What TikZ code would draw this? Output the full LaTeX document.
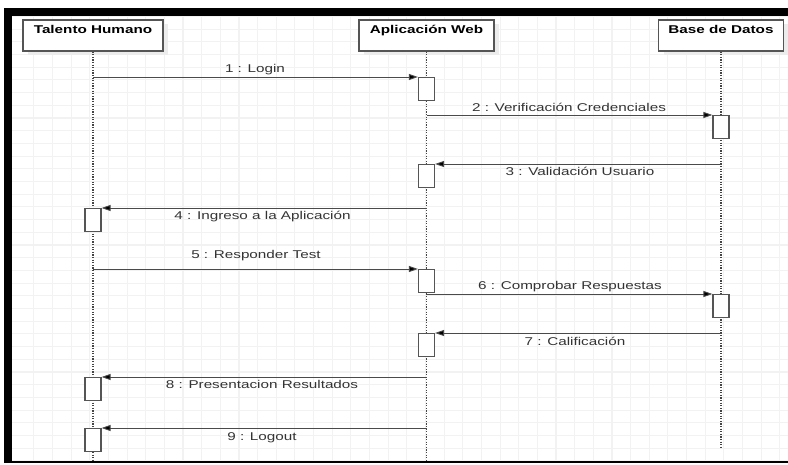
\documentclass[tikz,border=0pt]{standalone}
\usepackage{fontspec}
\newfontfamily\lab[FakeStretch=1.35]{Liberation Sans}
\usetikzlibrary{arrows.meta,shadows}
\definecolor{gridc}{HTML}{F2F2F2}
\definecolor{linec}{HTML}{4A4A4A}
\definecolor{boxc}{HTML}{555555}
\definecolor{lifec}{HTML}{444444}
\definecolor{txtc}{HTML}{333333}
\begin{document}
\begin{tikzpicture}[x=1pt,y=-1pt,
  header/.style={draw=boxc, line width=1.2pt, fill=white, minimum height=31pt, inner sep=0pt,
    drop shadow={shadow xshift=5pt, shadow yshift=-4pt, fill=gray!15, opacity=1}},
  htext/.style={font={\lab\bfseries\fontsize{11.3pt}{13pt}\selectfont}, text=black, inner sep=0pt, anchor=base},
  life/.style={draw=lifec, line width=1.6pt, dash pattern=on 1.3pt off 1.3pt},
  actbox/.style={draw=boxc, line width=1.2pt, fill=white, minimum width=16pt, minimum height=23pt, inner sep=0pt, anchor=north},
  msg/.style={draw=linec, line width=0.9pt, -{Triangle[length=9pt,width=6pt,fill=black]}},
  lbl/.style={font={\lab\fontsize{11.3pt}{13pt}\selectfont}, text=txtc, inner sep=0pt, anchor=base}]
\useasboundingbox (0,0) rectangle (788,465);
\fill[white] (0,0) rectangle (788,465);
% grid
\begin{scope}
\clip (12,16) rectangle (788,461);
\foreach \i in {0,...,41} { \draw[gridc, line width=1.1pt] ({33.8+18.65*\i},16) -- ({33.8+18.65*\i},461); }
\foreach \j in {1,...,36} { \draw[gridc, line width=1.1pt] (12,{3.7+12.7*\j}) -- (788,{3.7+12.7*\j}); }
\end{scope}
% frame
\fill[black] (4,8) rectangle (788,16);
\fill[black] (4,8) rectangle (12,463);
\draw[black, line width=1.5pt] (4,462) -- (788,462);
% headers
\node[header, minimum width=140pt] (th) at (93,35.5) {};
\node[header, minimum width=135pt] (aw) at (426.5,35.5) {};
\node[header, minimum width=125pt] (bd) at (721,35.5) {};
\node[htext] (thT) at (93,33.5) {Talento Humano};
\node[htext] (awT) at (426.5,33.5) {Aplicación Web};
\node[htext] (bdT) at (721,33.5) {Base de Datos};
% lifelines
\coordinate (thE) at (93,460);
\coordinate (awE) at (426.5,460);
\coordinate (bdE) at (721,447);
\draw[life] (th.south) -- (thE);
\draw[life] (aw.south) -- (awE);
\draw[life] (bd.south) -- (bdE);
% activations
\node[actbox] (a1) at (426.5,77) {};
\node[actbox] (b1) at (721,115) {};
\node[actbox] (a2) at (426.5,164) {};
\node[actbox] (t1) at (93,208) {};
\node[actbox] (a3) at (426.5,269) {};
\node[actbox] (b2) at (721,294) {};
\node[actbox] (a4) at (426.5,333) {};
\node[actbox] (t2) at (93,377) {};
\node[actbox] (t3) at (93,428) {};
% messages
\draw[msg] (th.south |- a1.north west) -- (a1.north west);
\draw[msg] (aw.south |- b1.north west) -- (b1.north west);
\draw[msg] (bd.south |- a2.north east) -- (a2.north east);
\draw[msg] (aw.south |- t1.north east) -- (t1.north east);
\draw[msg] (th.south |- a3.north west) -- (a3.north west);
\draw[msg] (aw.south |- b2.north west) -- (b2.north west);
\draw[msg] (bd.south |- a4.north east) -- (a4.north east);
\draw[msg] (aw.south |- t2.north east) -- (t2.north east);
\draw[msg] (aw.south |- t3.north east) -- (t3.north east);
% labels
\node[lbl] (m1) at (255,73) {1 : Login};
\node[lbl] (m2) at (569,111.5) {2 : Verificación Credenciales};
\node[lbl] (m3) at (580,176) {3 : Validación Usuario};
\node[lbl] (m4) at (262.5,220) {4 : Ingreso a la Aplicación};
\node[lbl] (m5) at (256,258.3) {5 : Responder Test};
\node[lbl] (m6) at (570,290) {6 : Comprobar Respuestas};
\node[lbl] (m7) at (575,345) {7 : Calificación};
\node[lbl] (m8) at (262,388.3) {8 : Presentacion Resultados};
\node[lbl] (m9) at (262,440) {9 : Logout};
\end{tikzpicture}
\end{document}
